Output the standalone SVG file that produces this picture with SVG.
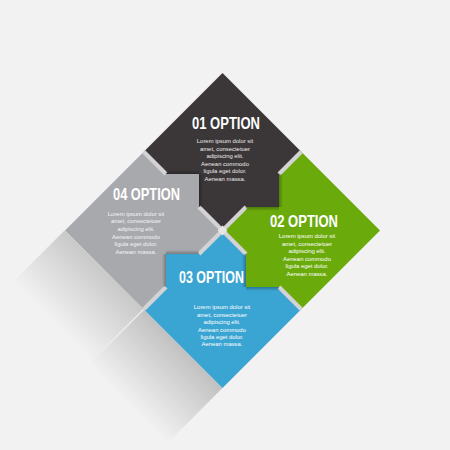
<svg xmlns="http://www.w3.org/2000/svg" width="450" height="450" viewBox="0 0 450 450">
<style>
.t{font-family:'Liberation Sans',Arial,sans-serif;font-weight:bold;font-size:16.5px;fill:#ffffff;text-anchor:middle}
.b{font-family:'Liberation Sans',Arial,sans-serif;font-size:5.9px;text-anchor:middle}
.sep{stroke:#d3d3d5;stroke-width:4;fill:none}
</style>
<defs>
<path id="q" d="M0,-157.5 L78.75,-78.75 L56.5,-56.5 L56.5,-23.5 L23.5,-23.5 L0,0 L-23.5,-23.5 L-23.5,-56.5 L-56.5,-56.5 L-78.75,-78.75 Z"/>
<linearGradient id="shx" x1="0" y1="0" x2="1" y2="0"><stop offset="0" stop-color="#000" stop-opacity="0.28"/><stop offset="1" stop-color="#000" stop-opacity="0"/></linearGradient>
<linearGradient id="shy" x1="0" y1="0" x2="0" y2="1"><stop offset="0" stop-color="#000" stop-opacity="0.28"/><stop offset="1" stop-color="#000" stop-opacity="0"/></linearGradient>
<g id="tabsh">
<rect x="56.5" y="-56.5" width="4" height="33" fill="url(#shx)"/>
<rect x="23.5" y="-23.5" width="33" height="4" fill="url(#shy)"/>
</g>
<g id="sepg">
<line class="sep" x1="0" y1="0" x2="23.5" y2="-23.5"/>
<line class="sep" x1="56.5" y1="-56.5" x2="78.75" y2="-78.75"/>
</g>
<linearGradient id="ls1" gradientUnits="userSpaceOnUse" x1="104" y1="270" x2="52" y2="322"><stop offset="0" stop-color="#000" stop-opacity="0.17"/><stop offset="1" stop-color="#000" stop-opacity="0"/></linearGradient>
<linearGradient id="ls2" gradientUnits="userSpaceOnUse" x1="183" y1="349" x2="128" y2="404"><stop offset="0" stop-color="#000" stop-opacity="0.2"/><stop offset="1" stop-color="#000" stop-opacity="0"/></linearGradient>
</defs>
<rect width="450" height="450" fill="#f2f2f2"/>
<g id="longshadow">
<polygon points="64.5,230.5 143.75,309.25 88.75,364.25 9.5,285.5" fill="url(#ls1)"/>
<polygon points="143.75,309.25 222.5,388 167.5,443 88.75,364.25" fill="url(#ls2)"/>
<line x1="143.75" y1="309.25" x2="96" y2="357" stroke="#ececec" stroke-width="1.5"/>
</g>
<g transform="translate(222.5,230.5)">
<g id="node01"><use href="#q" fill="#3b3637"/></g>
<g id="node02"><use href="#q" fill="#6aab0b" transform="rotate(90)"/></g>
<g id="node03"><use href="#q" fill="#3aa4d2" transform="rotate(180)"/></g>
<g id="node04"><use href="#q" fill="#a8a9ad" transform="rotate(270)"/></g>
<g id="connectors">
<use href="#sepg"/>
<use href="#sepg" transform="rotate(90)"/>
<use href="#sepg" transform="rotate(180)"/>
<use href="#sepg" transform="rotate(270)"/>
<use href="#tabsh"/>
<use href="#tabsh" transform="rotate(90)"/>
<use href="#tabsh" transform="rotate(180)"/>
<use href="#tabsh" transform="rotate(270)"/>
<rect x="-3.5" y="-3.5" width="7" height="7" fill="#e6e6e6" transform="rotate(45)"/>
</g>
</g>
<g id="text01">
<text class="t" x="226" y="128.5" textLength="68" lengthAdjust="spacingAndGlyphs">01 OPTION</text>
<text class="b" fill="#ececec"><tspan x="225" y="143">Lorem ipsum dolor sit</tspan><tspan x="225" dy="7.6">amet, consectetuer</tspan><tspan x="225" dy="7.6">adipiscing elit.</tspan><tspan x="225" dy="7.6">Aenean commodo</tspan><tspan x="225" dy="7.6">ligula eget dolor.</tspan><tspan x="225" dy="7.6">Aenean massa.</tspan></text>
</g>
<g id="text04">
<text class="t" x="146.5" y="199.5" textLength="67" lengthAdjust="spacingAndGlyphs">04 OPTION</text>
<text class="b" fill="#f4f4f4"><tspan x="136" y="215.7">Lorem ipsum dolor sit</tspan><tspan x="136" dy="7.6">amet, consectetuer</tspan><tspan x="136" dy="7.6">adipiscing elit.</tspan><tspan x="136" dy="7.6">Aenean commodo</tspan><tspan x="136" dy="7.6">ligula eget dolor.</tspan><tspan x="136" dy="7.6">Aenean massa.</tspan></text>
</g>
<g id="text02">
<text class="t" x="304" y="226.5" textLength="68" lengthAdjust="spacingAndGlyphs">02 OPTION</text>
<text class="b" fill="#ffffff"><tspan x="307" y="238.3">Lorem ipsum dolor sit</tspan><tspan x="307" dy="7.5">amet, consectetuer</tspan><tspan x="307" dy="7.5">adipiscing elit.</tspan><tspan x="307" dy="7.5">Aenean commodo</tspan><tspan x="307" dy="7.5">ligula eget dolor.</tspan><tspan x="307" dy="7.5">Aenean massa.</tspan></text>
</g>
<g id="text03">
<text class="t" x="211.5" y="283" textLength="65" lengthAdjust="spacingAndGlyphs">03 OPTION</text>
<text class="b" fill="#ffffff"><tspan x="222" y="309.3">Lorem ipsum dolor sit</tspan><tspan x="222" dy="7.4">amet, consectetuer</tspan><tspan x="222" dy="7.4">adipiscing elit.</tspan><tspan x="222" dy="7.4">Aenean commodo</tspan><tspan x="222" dy="7.4">ligula eget dolor.</tspan><tspan x="222" dy="7.4">Aenean massa.</tspan></text>
</g>
</svg>
